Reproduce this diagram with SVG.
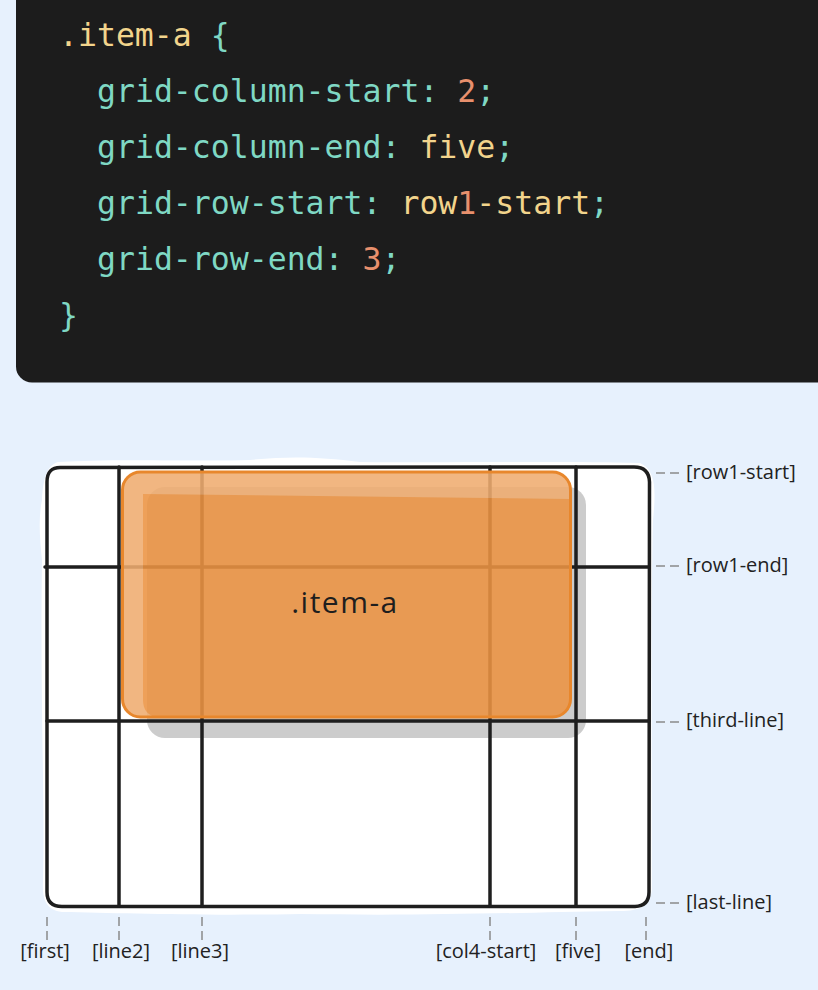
<svg xmlns="http://www.w3.org/2000/svg" width="818" height="990" viewBox="0 0 818 990">
<defs>
<style>
.code{font-family:"DejaVu Sans Mono","Liberation Mono",monospace;font-size:31.5px;}
.teal{fill:#7FD8C4;}
.yel{fill:#F2D48C;}
.num{fill:#E8906D;}
.lbl{font-family:"Open Sans","Lato",sans-serif;font-size:20px;fill:#222;}
.dash{stroke:#8A8A8A;stroke-width:1.5;stroke-dasharray:9 5;fill:none;}
.gl{stroke:#1E1E1E;stroke-width:3.5;fill:none;stroke-linecap:round;}
</style>
<clipPath id="itemclip"><rect x="122.5" y="472" width="448" height="245" rx="18"/></clipPath>
</defs>
<rect x="0" y="0" width="818" height="990" fill="#E7F1FD"/>
<g id="code">
<rect x="16" y="-20" width="820" height="402.5" rx="16" fill="#1C1C1C"/>
<text class="code" x="59" y="46"><tspan class="yel">.item-a</tspan><tspan class="teal"> {</tspan></text>
<text class="code" x="97" y="102"><tspan class="teal">grid-column-start: </tspan><tspan class="num">2</tspan><tspan class="teal">;</tspan></text>
<text class="code" x="97" y="158"><tspan class="teal">grid-column-end: </tspan><tspan class="yel">five</tspan><tspan class="teal">;</tspan></text>
<text class="code" x="97" y="214"><tspan class="teal">grid-row-start: </tspan><tspan class="yel">row</tspan><tspan class="num">1</tspan><tspan class="yel">-start</tspan><tspan class="teal">;</tspan></text>
<text class="code" x="97" y="270"><tspan class="teal">grid-row-end: </tspan><tspan class="num">3</tspan><tspan class="teal">;</tspan></text>
<text class="code teal" x="59" y="326">}</text>
</g>
<g id="grid-bg">
<path d="M58,462 C120,458 200,462 250,460 C290,456 320,457 360,462 C450,463 560,461 640,463 C656,470 656,490 653,520 C651,600 652,760 652,890 C650,906 640,911 620,911 C500,913 420,916 300,914 C200,916 120,913 62,912 C46,910 42,900 43,880 C45,800 40,700 42,560 C40,540 38,520 42,500 C43,480 46,466 58,462 Z" fill="#FFFFFF"/>
</g>
<g id="shadow">
<rect x="147" y="487" width="439" height="251" rx="18" fill="#CCCCCC"/>
</g>
<g id="grid">
<path class="gl" d="M61,467.5 Q47,467 47,482 L47,892 Q47,906.5 62,906.5 L635,906.5 Q649,906 649,892 L649.5,482 Q649,467 634,467 Z"/>
<line class="gl" x1="119" y1="467" x2="119" y2="906"/>
<line class="gl" x1="202" y1="467" x2="202" y2="906"/>
<line class="gl" x1="490" y1="467" x2="490" y2="906"/>
<line class="gl" x1="576" y1="467" x2="576" y2="906"/>
<line class="gl" x1="45" y1="567" x2="649" y2="567"/>
<line class="gl" x1="47" y1="721" x2="649" y2="721"/>
</g>
<g id="item-a">
<g opacity="0.88">
<rect x="122.5" y="472" width="448" height="245" rx="18" fill="#F0AD70"/>
<g clip-path="url(#itemclip)">
<path d="M143,494 L571,499 L571,718 L160,718 Q143,716 143,700 Z" fill="#EC9443"/>
</g>
</g>
<rect x="122.5" y="472" width="448" height="245" rx="18" fill="none" stroke="#E8872C" stroke-width="3"/>
</g>
<text id="item-a-label" x="345" y="613" text-anchor="middle" font-family="Open Sans, Lato, sans-serif" font-size="30" letter-spacing="1.5" fill="#1E1E1E">.item-a</text>
<g id="connectors">
<line class="dash" x1="656" y1="473" x2="682" y2="473"/>
<line class="dash" x1="656" y1="566" x2="682" y2="566"/>
<line class="dash" x1="656" y1="722" x2="682" y2="722"/>
<line class="dash" x1="656" y1="903" x2="682" y2="903"/>
<line class="dash" x1="47" y1="917" x2="47" y2="940"/>
<line class="dash" x1="119" y1="917" x2="119" y2="940"/>
<line class="dash" x1="202" y1="917" x2="202" y2="940"/>
<line class="dash" x1="490" y1="917" x2="490" y2="940"/>
<line class="dash" x1="576" y1="917" x2="576" y2="940"/>
<line class="dash" x1="646" y1="917" x2="646" y2="940"/>
</g>
<g id="row-labels">
<text class="lbl" x="686" y="479">[row1-start]</text>
<text class="lbl" x="686" y="572">[row1-end]</text>
<text class="lbl" x="686" y="727">[third-line]</text>
<text class="lbl" x="686" y="909">[last-line]</text>
</g>
<g id="col-labels" text-anchor="middle">
<text class="lbl" x="45" y="958">[first]</text>
<text class="lbl" x="121" y="958">[line2]</text>
<text class="lbl" x="200" y="958">[line3]</text>
<text class="lbl" x="486" y="958">[col4-start]</text>
<text class="lbl" x="578" y="958">[five]</text>
<text class="lbl" x="649" y="958">[end]</text>
</g>
</svg>
